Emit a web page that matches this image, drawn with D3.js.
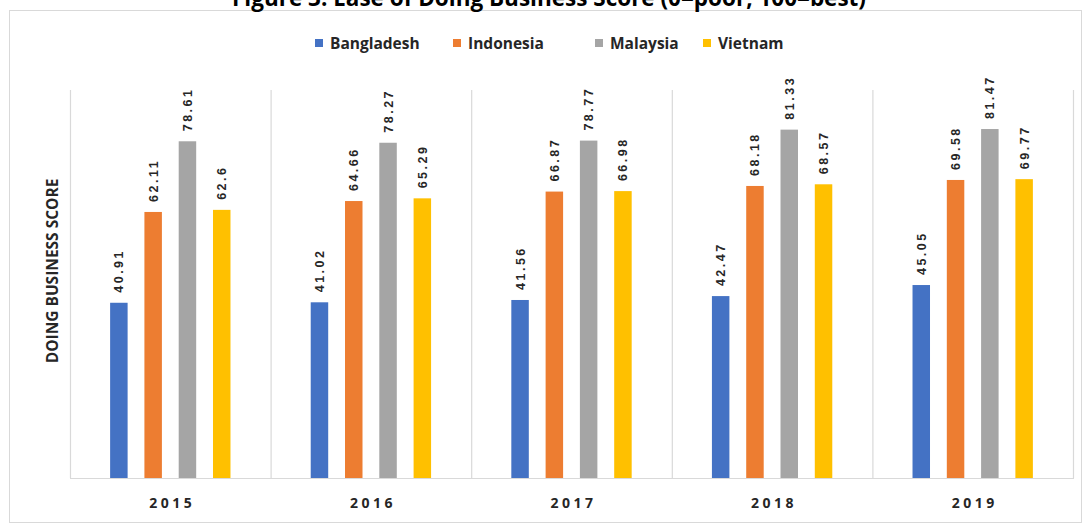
<!DOCTYPE html>
<html>
<head>
<meta charset="utf-8">
<script src="https://cdn.jsdelivr.net/npm/d3@7/dist/d3.min.js"></script>
<style>
  html, body { margin: 0; padding: 0; background: #ffffff; }
  svg { display: block; }
</style>
</head>
<body>
<svg id="chart" width="1090" height="525"></svg>
<script>
// Ease of Doing Business scores by country and year
const years = ["2015", "2016", "2017", "2018", "2019"];
const countries = ["Bangladesh", "Indonesia", "Malaysia", "Vietnam"];
const bangladesh = [40.91, 41.02, 41.56, 42.47, 45.05];
const indonesia  = [62.11, 64.66, 66.87, 68.18, 69.58];
const malaysia   = [78.61, 78.27, 78.77, 81.33, 81.47];
const vietnam    = [62.6, 65.29, 66.98, 68.57, 69.77];
const colors = ["#4472C4", "#ED7D31", "#A5A5A5", "#FFC000"];

const seriesValues = [bangladesh, indonesia, malaysia, vietnam];
const rows = years.map((y, i) => ({
  year: y,
  values: countries.map((c, j) => ({ country: c, value: seriesValues[j][i], color: colors[j] }))
}));

const svg = d3.select("#chart");

// outer frame
svg.append("rect")
  .attr("x", 9.5).attr("y", 10.5).attr("width", 1072).attr("height", 512)
  .attr("fill", "#ffffff").attr("stroke", "#d9d9d9").attr("stroke-width", 1);

// title (runs off the top edge)
svg.append("text")
  .attr("x", 549).attr("y", 6)
  .attr("text-anchor", "middle")
  .attr("font-family", "'Open Sans', Lato, sans-serif")
  .attr("font-weight", "bold")
  .attr("font-size", 22.5)
  .attr("fill", "#000")
  .text("Figure 3: Ease of Doing Business Score (0=poor, 100=best)");

const plot = { left: 70, right: 1073, top: 90, bottom: 478 };

const x0 = d3.scaleBand().domain(years).range([plot.left, plot.right]).padding(0);
const x1 = d3.scaleBand().domain(countries).range([0, x0.bandwidth()])
  .paddingInner(0.49).paddingOuter(1.17);
const y = d3.scaleLinear().domain([0, 90]).range([plot.bottom, 92.5]);

// category dividers at each band edge
const edges = years.map(yv => x0(yv)).concat([x0(years[years.length - 1]) + x0.bandwidth()]);
svg.append("g").selectAll("line").data(edges).join("line")
  .attr("x1", d => d + 0.5).attr("x2", d => d + 0.5)
  .attr("y1", plot.top).attr("y2", plot.bottom)
  .attr("stroke", "#d9d9d9").attr("stroke-width", 1.2);

// baseline
svg.append("line")
  .attr("x1", plot.left).attr("x2", plot.right + 1)
  .attr("y1", plot.bottom + 0.5).attr("y2", plot.bottom + 0.5)
  .attr("stroke", "#d9d9d9").attr("stroke-width", 1.2);

// bars
const groups = svg.append("g").selectAll("g").data(rows).join("g")
  .attr("transform", d => `translate(${x0(d.year)},0)`);

groups.selectAll("rect").data(d => d.values).join("rect")
  .attr("x", d => x1(d.country))
  .attr("y", d => y(d.value))
  .attr("width", x1.bandwidth())
  .attr("height", d => y(0) - y(d.value))
  .attr("fill", d => d.color);

// value labels, rotated, above each bar
groups.selectAll("text").data(d => d.values).join("text")
  .attr("transform", d => `translate(${x1(d.country) + x1.bandwidth() / 2 + 4.5},${y(d.value) - 10}) rotate(-90)`)
  .attr("font-family", "'Liberation Sans', Arial, sans-serif")
  .attr("font-weight", "bold")
  .attr("font-size", 12.5)
  .attr("letter-spacing", 2.5)
  .attr("fill", "#262626")
  .text(d => String(d.value));

// x axis labels
const xAxis = d3.axisBottom(x0).tickSize(0).tickPadding(0);
const gx = svg.append("g").attr("transform", `translate(0,${plot.bottom})`).call(xAxis);
gx.select(".domain").remove();
gx.selectAll("text")
  .attr("y", 30)
  .attr("dx", 2)
  .attr("dy", 0)
  .attr("font-family", "'Open Sans', Arial, sans-serif")
  .attr("font-weight", "bold")
  .attr("font-size", 14)
  .attr("letter-spacing", 3.5)
  .attr("fill", "#262626");

// y axis title
svg.append("text")
  .attr("transform", "translate(58,271) rotate(-90)")
  .attr("text-anchor", "middle")
  .attr("font-family", "'Open Sans', Lato, sans-serif")
  .attr("font-weight", "bold")
  .attr("font-size", 15.5)
  .attr("fill", "#262626")
  .text("DOING BUSINESS SCORE");

// legend
const legendX = [315, 453, 595, 703];
const legend = svg.append("g").selectAll("g").data(countries).join("g")
  .attr("transform", (d, i) => `translate(${legendX[i]},43)`);
legend.append("rect")
  .attr("x", 0).attr("y", -4).attr("width", 8).attr("height", 8)
  .attr("fill", (d, i) => colors[i]);
legend.append("text")
  .attr("x", 15).attr("y", 5.5)
  .attr("font-family", "'Open Sans', Lato, sans-serif")
  .attr("font-weight", "bold")
  .attr("font-size", 15.5)
  .attr("fill", "#262626")
  .text(d => d);
</script>
</body>
</html>
